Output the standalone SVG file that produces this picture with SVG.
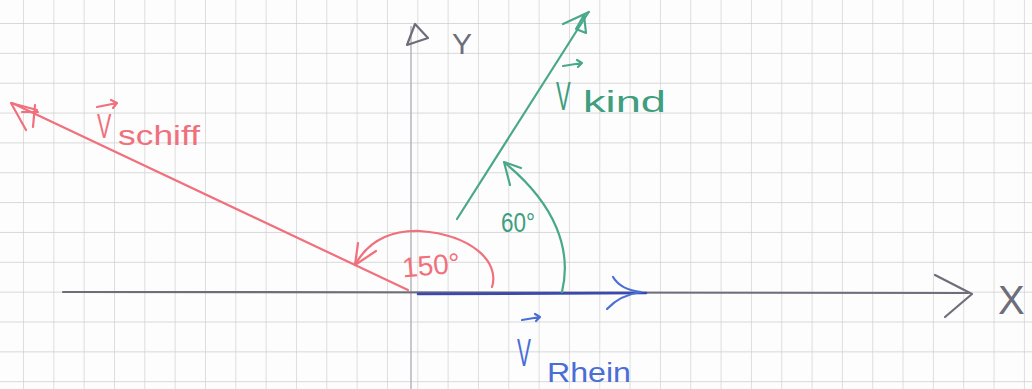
<svg xmlns="http://www.w3.org/2000/svg" width="1032" height="389" viewBox="0 0 1032 389">
<defs>
<pattern id="grid" x="23" y="23" width="30.33" height="29.85" patternUnits="userSpaceOnUse">
<path d="M0 0 V29.85 M0 0 H30.33" fill="none" stroke="#cdcdcf" stroke-width="1.3"/>
</pattern>
</defs>
<style>
.pen{fill:none;stroke-linecap:round;stroke-linejoin:round}
.red{stroke:#f0707c;stroke-width:2.2}
.grn{stroke:#4aa88a;stroke-width:2.2}
.blu{stroke:#4a6ed6;stroke-width:2.2}
.gry{stroke:#6e6e7a;stroke-width:2.2}
.hand{font-family:"Liberation Sans","DejaVu Sans",sans-serif}
.tr{fill:#f0707c}
.tg{fill:#3e9e7e}
.tb{fill:#4a6ed6}
.tk{fill:#6e6e7a}
</style>
<rect width="1032" height="389" fill="#fdfdfd"/>
<rect width="1032" height="389" fill="url(#grid)"/>

<g id="axes">
<line x1="411" y1="26" x2="411" y2="389" stroke="#b4b4bc" stroke-width="1.5"/>
<line x1="63" y1="292" x2="968" y2="293" class="pen gry" stroke-width="1.8"/>
<path d="M415 24 L407 45 L428 38 Z" class="pen gry" stroke-width="2"/>
<path d="M935 275 L972 294 L945 317" class="pen gry"/>
<text x="452" y="54" class="hand tk" font-size="30">Y</text>
<text x="998" y="314" class="hand tk" font-size="40">X</text>
</g>

<g id="connectors">
<g id="vec-schiff">
<line x1="408" y1="290" x2="12" y2="103" class="pen red"/>
<path d="M26 130 L11 103 L37 110 M35 105 L33 127 M22 112 L38 112" class="pen red"/>
</g>
<g id="vec-wind">
<line x1="457" y1="219" x2="588" y2="13" class="pen grn"/>
<path d="M563 24 L589 12 M576 29 L584 15 L586 33 Z" class="pen grn"/>
</g>
<g id="vec-rhein">
<line x1="418" y1="294" x2="646" y2="293" stroke="#3a48b0" stroke-width="2.6" stroke-linecap="round"/>
<path d="M613 277 Q621 290 641 292 Q620 295 607 309" class="pen blu"/>
</g>
<g id="arc-150">
<path d="M492 287 C500 262 472 235 420 231 C386 230 366 245 355 265" class="pen red"/>
<path d="M358 243 L355 265 L376 251" class="pen red"/>
</g>
<g id="arc-60">
<path d="M562 292 C572 250 556 205 505 163" class="pen grn"/>
<path d="M510 185 L504 162 L521 168" class="pen grn"/>
</g>
</g>

<g id="label-schiff">
<path d="M97 107 L117 103 M111 100 L117 103 L113 108" class="pen red" stroke-width="1.8"/>
<text x="97" y="138" class="hand tr" font-size="36" transform="translate(97 0) scale(0.6 1) translate(-97 0)">V</text>
<text x="118" y="145" class="hand tr" font-size="28" textLength="82" lengthAdjust="spacingAndGlyphs">schiff</text>
</g>
<g id="label-wind">
<path d="M563 66 L582 63 M577 60 L582 63 L578 67" class="pen grn" stroke-width="1.8"/>
<text x="556" y="110" class="hand tg" font-size="40" transform="translate(556 0) scale(0.55 1) translate(-556 0)">V</text>
<text x="583" y="112" class="hand tg" font-size="30" textLength="83" lengthAdjust="spacingAndGlyphs">kind</text>
</g>
<g id="label-rhein">
<path d="M522 320 L540 317 M535 314 L540 317 L536 321" class="pen blu" stroke-width="1.8"/>
<text x="517" y="366" class="hand tb" font-size="38" transform="translate(517 0) scale(0.55 1) translate(-517 0)">V</text>
<text x="547" y="382" class="hand tb" font-size="27" textLength="84" lengthAdjust="spacingAndGlyphs">Rhein</text>
</g>
<g id="label-150">
<text x="402" y="275" class="hand tr" font-size="28" textLength="58" lengthAdjust="spacingAndGlyphs" transform="rotate(-5 430 265)">150°</text>
</g>
<g id="label-60">
<text x="501" y="232" class="hand tg" font-size="28" textLength="34" lengthAdjust="spacingAndGlyphs">60°</text>
</g>
</svg>
